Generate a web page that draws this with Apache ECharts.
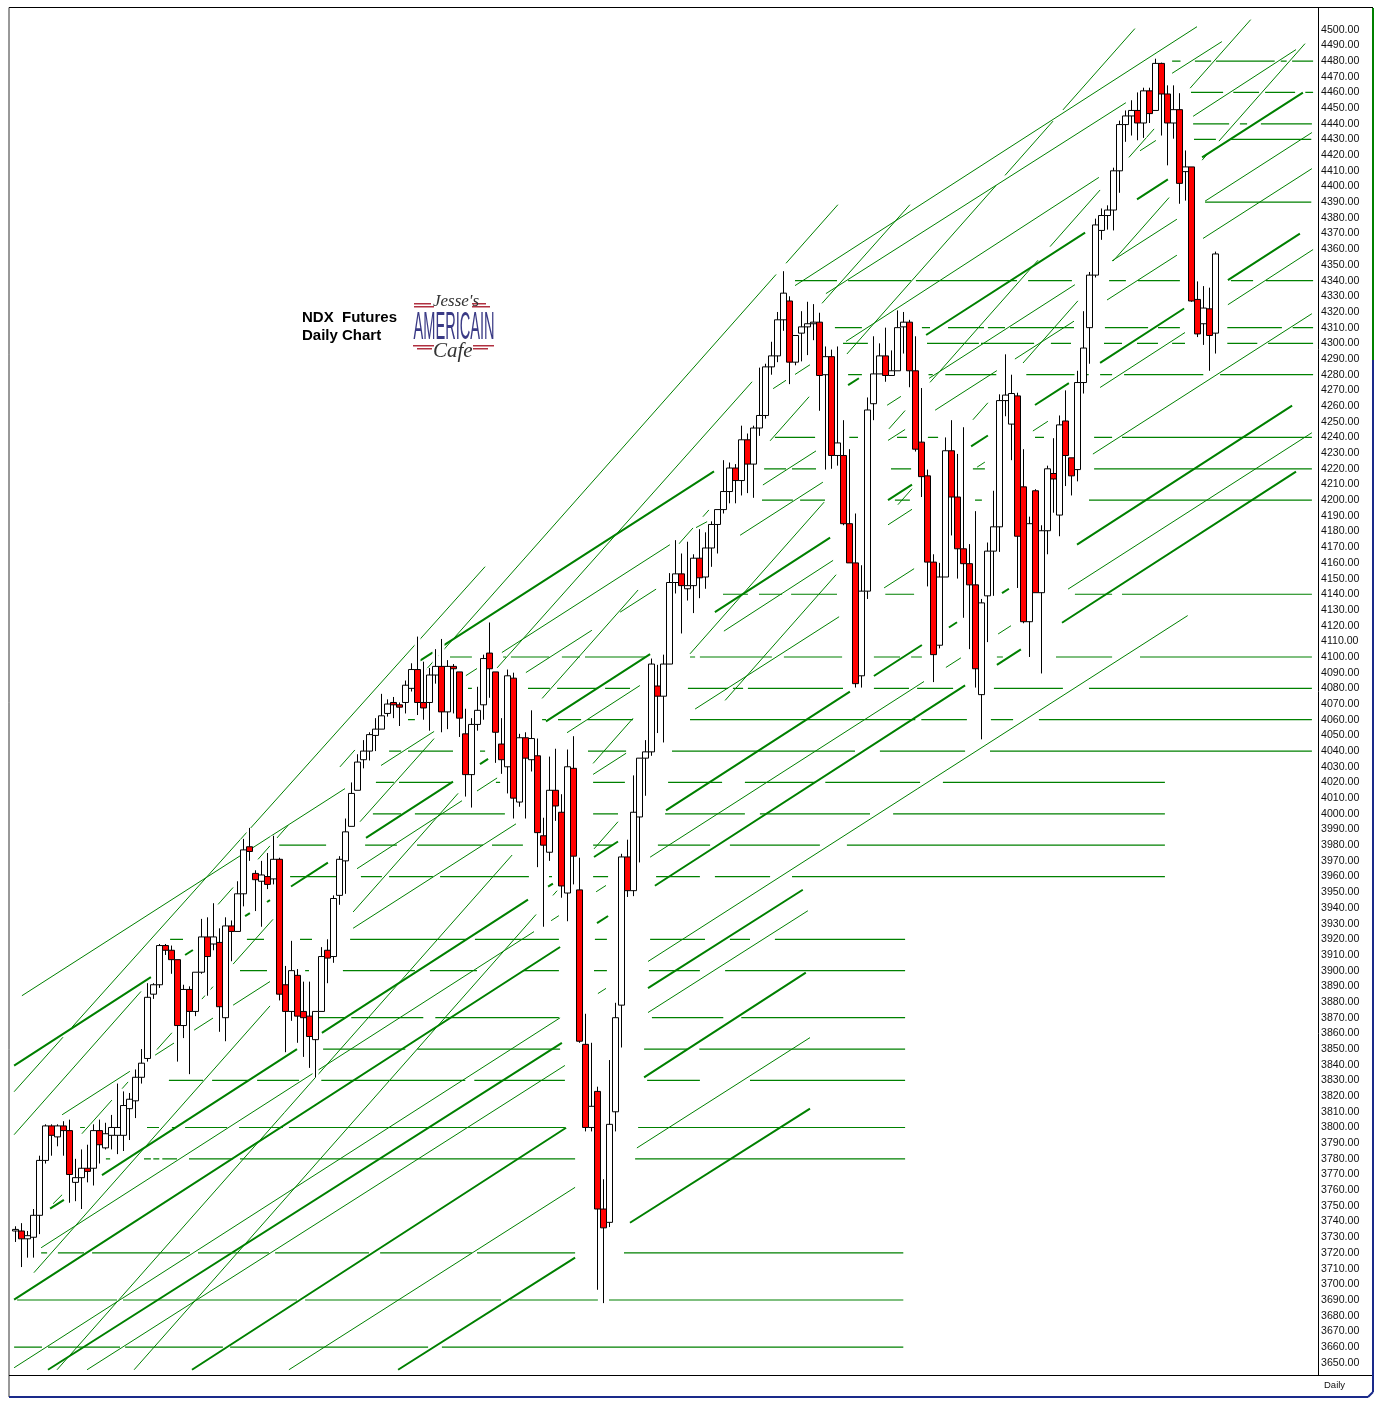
<!DOCTYPE html>
<html><head><meta charset="utf-8">
<style>html,body{margin:0;padding:0;background:#fff}#c{width:1383px;height:1405px}</style>
<script src="https://cdn.jsdelivr.net/npm/echarts@6/dist/echarts.min.js"></script>
</head><body><div id="c"></div>
<script>
const opens=[3734,3734,3729,3730,3744,3779,3801,3794,3801,3798,
3765,3768,3774,3774,3798,3787,3795,3795,3795,3812,
3817,3832,3844,3885,3891,3916,3913,3907,3865,3888,
3874,3899,3921.5,3917,3918,3870,3928.5,3925,3949,3979,
3962,3957,3960,3958.5,3971,3891,3874,3897,3874,3871,
3856,3874,3913,3909,3948,3970,3992,4015,4034.5,4040,
4050,4054,4064,4071,4069.5,4071,4080,4092,4071,4071,
4088.5,4094,4065,4094,4090.5,4051,4025,4057,4069.5,4102.5,
4090.5,4044.5,4030,4086.5,4007.5,4048.5,4034.5,4037,3986,3975.5,
4015,4001,3949.5,4029,3951.5,3853,3800,3823,3748,3739.5,
3810,3878,3972.5,3951,3998,4035.5,4039.5,4081.5,4075,4095.5,
4147.5,4153,4143.5,4145.5,4163,4151,4169.5,4184.5,4194,4205.5,
4220.5,4212.5,4238.5,4223,4246,4254,4285,4292,4315,4327,
4288,4306.5,4310.5,4312.5,4313.5,4280,4291.5,4228.5,4228.5,4185,
4160,4088,4142,4261.5,4280.5,4292,4279.5,4282.5,4310.5,4313.5,
4282.5,4237,4215.5,4160.5,4107.5,4151,4231.5,4202,4169,4159.5,
4146,4076,4139,4167.5,4183,4263.5,4248.5,4266.5,4208.5,4122.5,
4206,4141,4180.5,4217,4190.5,4250.5,4227,4219.5,4275,4310,
4343.5,4372,4381.5,4385,4410,4439.5,4445,4448.5,4440.5,4461,
4448.5,4478.5,4459,4440.5,4449,4409.5,4412.5,4328,4312.5,4322,4306.5];
const closes=[3735,3729,3731,3744,3779,3801,3795,3801,3798,3770,
3768,3774,3772,3798,3789,3796,3800,3800,3814,3818,
3832,3841,3883,3891,3916,3913,3907,3865,3888,3874,
3899,3921.5,3909,3921.5,3877,3928.5,3925,3949,3977,3976,
3958,3961,3955,3971,3885,3874,3900,3871,3870,3858,
3874,3909,3908,3946,3971,3988.5,4013,4033,4040,4050.5,
4054,4062.5,4070,4069.5,4068,4082,4092,4071,4067.5,4088.5,
4094,4065,4094,4092.5,4061,4025,4057,4066,4099,4092.5,
4052,4034.5,4088,4010,4048.5,4035.5,4048,3988,3980,4015,
4005,3954,4030,3973,3855,3800,3813.5,3748,3736,3802,
3870,3972.5,3951,4001,4035.5,4039.5,4095.5,4075,4095.5,4147.5,
4153,4145.5,4145.5,4163,4150.5,4169.5,4184.5,4194,4205.5,4220.5,
4212.5,4238.5,4223,4246,4254,4285,4292,4315,4332,4288,
4305,4310.5,4312.5,4313.5,4279.5,4291.5,4228.5,4236.5,4185,4160,
4083,4142,4257.5,4280.5,4292,4279.5,4282.5,4310,4313.5,4282.5,
4232.5,4215,4160.5,4101.5,4151,4231.5,4202,4169,4159.5,4146,
4092.5,4134.5,4167.5,4183,4263.5,4267,4268,4177,4122.5,4185,
4141,4180.5,4220,4213.5,4248,4228.5,4215.5,4275,4297,4343.5,
4375.5,4381.5,4385,4410,4439.5,4445,4448.5,4440.5,4461,4446.5,
4478.5,4459,4440.5,4449,4402,4412.5,4327,4306,4322.5,4305,4357];
const lows=[3727,3711,3717,3717,3732,3777,3782,3788,3782,3752,
3753,3748,3765,3763,3777,3786,3786,3783,3785,3792,
3806,3828,3842,3882,3889,3910,3898,3842,3857,3834,
3871,3898,3884,3913,3861,3855,3906,3925,3941,3970,
3938,3928,3952,3955,3881,3848,3868,3854,3845,3838,
3832,3874,3892,3905,3942,3949,3992,4015,4029,4034,
4040,4054,4062,4061,4056,4064,4078,4063,4060,4053,
4083,4052,4054,4064,4049,4011,4004,4053,4060,4074,
4032.5,4025.5,4013,3997,4004.5,3997,4027,3966,3928,3970,
3995.5,3946.5,3931.5,3955,3854,3797.5,3797.5,3696.5,3688,3736.5,
3797.5,3851,3947,3947.5,3969,4011.5,4037,4051.5,4045.5,4095.5,
4140.5,4115,4136,4128,4137.5,4143.5,4157.5,4166,4191.5,4198,
4198,4203,4204.5,4201.5,4241,4252,4280,4288,4308,4274,
4286,4288.5,4292.5,4302,4257,4219.5,4220,4222,4184,4160,
4080.5,4080.5,4137,4251,4280.5,4275.5,4279.5,4282.5,4293.5,4272,
4231,4202,4145,4084,4105.5,4151,4177.5,4150,4125,4105,
4080.5,4047.5,4109.5,4139,4167,4253.5,4225.5,4144,4121.5,4100,
4141,4089.5,4165.5,4192,4177,4209,4203,4212,4268,4287,
4342,4366,4372.5,4372,4396,4428.5,4432.5,4429.5,4431,4440.5,
4448.5,4432.5,4413.5,4430.5,4389,4391,4326.5,4304,4299,4282.5,4293.5];
const highs=[3737,3739,3734,3748,3782,3802,3802,3802,3804,3805,
3780,3786,3789,3802,3805,3803,3808,3828,3823,3822,
3837,3850,3892,3892,3917,3917,3916,3907,3891,3890,
3899,3933,3934,3943,3927,3934,3932,3957,3984,3991,
3964,3970,3975,3986,3972,3903,3919,3901,3893,3893,
3874,3915,3920,3948,3973,3997,4020,4038,4047,4052,
4061,4076.5,4073,4074.5,4071,4085,4096,4113,4097,4093,
4105,4111.5,4098,4095.5,4090.5,4067,4061,4081,4101.5,4122,
4090.5,4061,4092,4090,4051,4052,4066,4048,3997.5,4036.5,
4041.5,4012.5,4041,4049.5,3972,3872.5,3854,3826,3767,3843,
3879.5,3974.5,3983.5,4024.5,4035.5,4047,4099,4095,4101.5,4153.5,
4174.5,4166,4173.5,4165.5,4181.5,4179.5,4186.5,4194,4225.5,4224,
4223,4247.5,4242.5,4247.5,4284.5,4287,4301,4320,4346,4330,
4305,4320.5,4326.5,4325,4319.5,4298,4296,4298,4251,4232.5,
4191.5,4158.5,4265.5,4304.5,4300,4310,4295.5,4321,4320,4315,
4304.5,4271.5,4219.5,4165.5,4160,4240,4251,4229.5,4246.5,4172,
4193,4137,4173,4206,4267.5,4293,4280,4268.5,4232.5,4189.5,
4207,4184,4222,4239.5,4254,4270,4227,4282.5,4320.5,4345.5,
4379.5,4386,4388,4412,4442,4448.5,4455,4460,4463,4463,
4481.5,4479,4464.5,4464.5,4459.5,4423,4412.5,4339.5,4336.5,4335.5,4358.5];

// trend lines: [bar index, price, bar index, price]
const thinTrends=[[-0.2,3822.8,78.3,4157.6],[-0.2,3795.4,137.1,4388.4],[11.1,3796,149.1,4388.4],
[3.1,3707.4,186.6,4500.7],[6.95,3645.5,205.9,4506.4],[19.8,3645.5,214.95,4491.1],
[1.1,3884,216.1,4411.4],[4.3,3723.3,216.1,4243],[-0.2,3646.8,195.4,4126.4],
[11.95,3645.5,132.1,3938.2],[45.6,3645.5,132.45,3857.3],[126.3,4271.1,213.45,4487.3],
[75.1,4088.1,216.1,4434.4],[56.95,3965,216.3,4359.8],[7.8,3808.1,216.1,4318.9],
[135.1,4331.7,201.1,4492.4],[129.95,4336.8,196.95,4501.9],[113.45,4182.5,115.3,4186.3],[6.3,3751.4,7.8,3757.1]];
// bar ranges over which each thin line is visible
const thinVisible=[
[-0.2,7.95,9.45,78.3],
[-0.2,20.95,33.8,36.3,40.45,42.45,43.6,45.45,54.1,56.6,65.8,126.8,128.45,137.1],
[11.1,16.1,17.8,18.8,23.6,26.1,31.1,32.95,36.3,42.95,57.45,69.8,80.3,122.8,134.45,149.1],
[3.1,42.45,56.3,73.8,87.8,103.8,110.6,112.95,114.6,115.6,125.8,132.3,138.6,163.45,164.95,172.95,174.6,186.6],
[6.95,82.8,96.3,102.95,112.45,134.8,145.6,148.3,152.45,170.45,172.45,180.8,185.6,189.8,195.8,205.9],
[19.8,86.8,89.6,90.3,96.45,100.45,118.3,136.8,147.1,149.45,159.6,162.1,167.95,177.1,182.95,192.3,197.8,198.8,200.6,214.95],
[1.1,54.95,60.95,69.8,85.1,96.1,100.8,106.8,120.8,134.6,145.45,148.3,153.3,163.6,166.6,176.45,181.95,193.6,197.95,216.1],
[4.3,86.45,89.3,90.6,96.8,98.45,105.8,151.45,155.1,157.6,163.8,165.95,175.45,216.1],
[-0.2,90.8,97.1,98.45,105.45,195.4],
[11.95,91.6,105.45,132.1],
[45.6,93.3,103.6,132.45],
[126.3,128.45,129.95,132.45,138.45,180.6,187.45,190.1,196.3,213.45],
[75.1,76.95,81.1,109.1,124.6,133.45,145.3,147.6,152.3,176.6,182.8,193.6,198.3,216.1],
[56.95,74.45,76.95,80.3,91.95,104.1,118.1,136.3,145.45,149.45,160.3,161.6,169.6,172.1,180.8,194.95,202.1,216.3],
[7.8,19.1,23.3,26.45,29.8,32.95,36.3,42.45,56.3,83.45,96.3,101.8,113.3,137.3,144.8,149.8,179.6,216.1],
[135.1,185.1,192.8,201.1],
[129.95,196.95],
[113.45,115.3],
[6.3,7.8]];
const thickTrends=[[-0.2,3839.4,214.1,4370],[5.8,3748.2,212.8,4260.3],[-0.2,3690.2,213.45,4218.2],
[5.45,3645.5,131.25,3951.6],[29.45,3645.5,131.75,3898.7],[63.8,3645.5,132.45,3812],[67.45,4097.7,214.6,4459.9]];
const thickVisible=[
[-0.2,22.6,28.3,29.6,38.3,39.1,41.95,42.45,45.95,52.1,58.45,72.95,77.45,78.8,88.45,105.8,116.6,135.8,145.45,149.45,159.3,162.1,169.95,175.6,180.8,194.8,202.1,214.1],
[5.8,8.1,14.45,46.95,51.1,85.45,88.8,89.6,96.45,100.45,108.45,139.1,143.1,151.1,155.6,156.95,164.45,165.6,176.95,212.8],
[-0.2,90.8,96.95,98.8,106.6,158.3,163.6,167.6,174.45,213.45],
[5.45,91.1,105.45,131.25],
[29.45,91.8,104.8,131.75],
[63.8,93.3,102.45,132.45],
[67.45,69.6,71.45,116.45,138.8,140.6,151.8,178.3,186.95,192.1,197.8,214.6]];

// horizontal levels and the bar ranges over which each is visible
const hLevels=[4480,4460,4440,4430,4390,4340,4310,4300,4280,4240,4220,4200,4140,4100,4080,4060,4040,4020,4000,3980,3960,3920,3900,3870,3850,3830,3800,3780,3720,3690,3660];
const hRanges=[
[192.8,194.2,196.6,199.3,200.1,209.9,210.9,211.9,212.8,216.3],
[195.95,201.3,203,207.3,208.3,213.3,215,216.3],
[196.3,202.3,204.1,205.3,207.6,216.1],
[196.45,200.1,202.45,216],
[198.3,216],
[129.95,136.95,138.8,149.3,150.1,166.95,168.8,176.1,182.3,185.1,187.1,194.1,202.6,206.3,208.45,216.3],
[136.6,141.1,151.1,152.45,155.45,161.45,162.1,164.95,165.8,176.45,181.6,188.8,190.45,194.1,202,211.1,212.9,216.3],
[137.95,142.1,151.95,160.6,160.95,169.8,172.6,175.95,181.45,184.45,186.95,190.45,192.8,194.95,202,207,208.8,216.3],
[138.8,141.1,152.2,152.9,155,163.5,168.5,178.9,180.8,182.8,184.8,198,200.8,216.3],
[126.6,133.3,139,140.45,146.95,148.6,152.1,153.8,169.95,171.45,179.8,182.8,184.45,216.1],
[124.8,128.45,129.45,133.45,145.95,149.3,159.6,161.6,179.8,216.1],
[124.45,129.6,130.8,134.95,146.6,149.1,159.95,161.1,178.95,216.1],
[117.95,122.1,123.95,127.8,129.3,136.95,145,149.8,176.6,182.8,184.45,216.1],
[72.45,76.1,81.3,81.8,82.6,89,91.1,94.1,94.95,105.1,112.45,113.3,114.1,126.1,128.1,137.8,143.1,147.45,149.3,151.1,163.6,164.6,173.45,182.8,187.45,216.1],
[75.45,76.1,85.45,89.1,90.3,96.95,98.3,102.45,112.1,118.8,119.6,121.3,122.1,137.95,143.1,148.95,150.3,156.3,163.1,174.6,178.95,216.1],
[65.45,66.6,87.8,88.45,90.45,94.3,95.3,102.95,112.45,150,151,158.6,162.6,166.3,170.6,216.1],
[62.3,64.3,65.45,72.95,77.45,78.3,95.45,101.8,109.45,139.95,144.1,158.3,162.45,216.1],
[60.1,63.1,63.95,72.6,80.1,80.8,96.3,101.6,108.8,117.8,121.6,133.3,135,150.8,154.6,191.6],
[59.6,64.3,66.6,81.6,96.3,100.45,108.3,121.6,124.1,142.45,146.3,191.6],
[44,51.8,58.3,63.6,66.95,77.95,79.45,84.6,96.3,99.6,107.1,115.8,119.1,134.1,138.6,191.6],
[45.8,54,57.6,61.1,62.3,69.6,70.8,85.6,88.95,89.45,96.3,98.8,106.8,114.1,116.6,125.8,129.45,191.6],
[25.8,27.95,38.6,41.45,47.45,49.45,55.8,75.3,76.6,90.6,96.6,98.6,105.8,114.95,119.1,122.45,126.6,148.3],
[37.45,41.95,48.3,48.95,54.6,66.6,69.1,76.95,84.6,90.6,96.45,98.6,105.6,114.1,118.3,148.3],
[47.45,55,56,68,70,90.6,106.1,118,121,148.3],
[51.3,65,67,90.8,104.8,112,114,148.3],
[25.6,31.3,32.8,38.8,40.3,47.3,51,75,76.5,91.6,105.3,114.1,122.45,148.3],
[10.8,11.6,21.95,23.95,26.1,26.95,28.3,35.3,37.3,44.6,45.6,91.6,103.8,148.3],
[15.1,15.8,21.45,22.6,23,24,24.5,26.95,28.95,36.3,37.45,93.3,103.3,148.3],
[4.3,5.3,7.1,11.45,12.8,29.1,30.45,42.3,43.3,58.95,60.8,76.1,76.95,93.3,101.45,148],
[0.3,16.95,17.95,46.95,48.3,80.95,82.45,97.1,98.95,148],
[-0.2,4.45,5.45,17.45,18.3,34.6,35.8,68.8,71.1,148]];

const slotCount=217;
const categories=Array.from({length:slotCount},(_,i)=>String(i));
const candleData=opens.map((o,i)=>[o,closes[i],lows[i],highs[i]]);
const maskData=lows.map((l,i)=>[l,highs[i],l,highs[i]]);
const trendPoints=(lines,visible)=>lines.flatMap((s,k)=>{
  const at=x=>s[1]+(x-s[0])*(s[3]-s[1])/(s[2]-s[0]);
  const r=visible[k],out=[];
  for(let j=0;j<r.length;j+=2){out.push([r[j],at(r[j])],[r[j+1],at(r[j+1])],[null,null]);}
  return out;
});
const levelPoints=hLevels.flatMap((p,k)=>{
  const r=hRanges[k],out=[];
  for(let j=0;j<r.length;j+=2){out.push([r[j],p],[r[j+1],p],[null,null]);}
  return out;
});
const GREEN='#008000';
const lineSeries=(data,width,z)=>({type:'line',xAxisIndex:1,yAxisIndex:0,data,symbol:'none',connectNulls:false,
  silent:true,animation:false,z,lineStyle:{color:GREEN,width,cap:'butt'}});
const rule=(x1,y1,x2,y2,color,w)=>({type:'line',z:50,silent:true,shape:{x1,y1,x2,y2},style:{stroke:color,lineWidth:w}});
const label=(x,y,text,font,fill)=>({type:'text',z:60,silent:true,x,y,style:{text,font,fill,textVerticalAlign:'top'}});
const stripe=(x,y,w,h,fill)=>({type:'rect',z:55,silent:true,shape:{x,y,width:w,height:h},style:{fill}});

const chart=echarts.init(document.getElementById('c'),null,{renderer:'canvas'});
chart.setOption({
  animation:false,backgroundColor:'#fff',
  grid:{left:12.3,right:68.7,top:14.0,bottom:26.6,containLabel:false},
  xAxis:[
    {type:'category',data:categories,show:false,boundaryGap:true},
    {type:'value',min:-0.5,max:slotCount-0.5,show:false}
  ],
  yAxis:[{type:'value',position:'right',min:3640,max:4510,interval:10,scale:true,
    axisLine:{show:false},axisTick:{show:false},splitLine:{show:false},
    axisLabel:{margin:6.7,fontFamily:'"Liberation Sans",Arial,sans-serif',fontSize:10.6,color:'#111',
      formatter:v=>(v<3650||v>4500)?'':v.toFixed(2)}}],
  series:[
    lineSeries(levelPoints,1.2,1),
    lineSeries(trendPoints(thinTrends,thinVisible),1,2),
    lineSeries(trendPoints(thickTrends,thickVisible),2,3),
    {type:'candlestick',xAxisIndex:0,yAxisIndex:0,data:maskData,barWidth:6,silent:true,z:4,
      itemStyle:{color:'#fff',color0:'#fff',borderColor:'#fff',borderColor0:'#fff',borderWidth:0}},
    {type:'candlestick',xAxisIndex:0,yAxisIndex:0,data:candleData,barWidth:7,silent:true,z:5,
      itemStyle:{color:'#fff',color0:'#ff0000',borderColor:'#000',borderColor0:'#000',borderWidth:1}}
  ],
  graphic:{elements:[
    rule(9,7.5,1373,7.5,'#000',1),
    rule(9,7.5,9,1397,'#333',1),
    rule(1318.5,8,1318.5,1375,'#000',1),
    rule(9,1375.5,1373,1375.5,'#000',1),
    rule(1373,8,1373,360,GREEN,2),
    rule(1373,360,1373,1392,'#1a2a8a',2),
    rule(9,1397,1368,1397,'#1a2a8a',2),
    rule(1368,1397,1373,1392,'#1a2a8a',2),
    label(302,310,'NDX  Futures','bold 15px "Liberation Sans",Arial,sans-serif','#000'),
    label(302,328,'Daily Chart','bold 15px "Liberation Sans",Arial,sans-serif','#000'),
    label(1324,1380,'Daily','9.5px "Liberation Sans",Arial,sans-serif','#111'),
    stripe(414,303,17,1.5,'#b03040'),stripe(414,306,20,1.5,'#b03040'),
    stripe(472,303,14,1.5,'#b03040'),stripe(472,306,18,1.5,'#b03040'),
    stripe(413,345,21,1.5,'#b03040'),stripe(417,348,15,1.5,'#b03040'),
    stripe(473,345,21,1.5,'#b03040'),stripe(473,348,15,1.5,'#b03040'),
    label(433,293,"Jesse's",'italic 17px "Liberation Serif",serif','#333'),
    {type:'text',z:60,silent:true,x:413.5,y:310,scaleX:0.73,scaleY:1.9,
      style:{text:'AMERICAIN',font:'20px "Liberation Sans",Arial,sans-serif',fill:'#3a3a85',textVerticalAlign:'top'}},
    label(433,341,'Cafe','italic 21px "Liberation Serif",serif','#333')
  ]}
});
</script></body></html>
